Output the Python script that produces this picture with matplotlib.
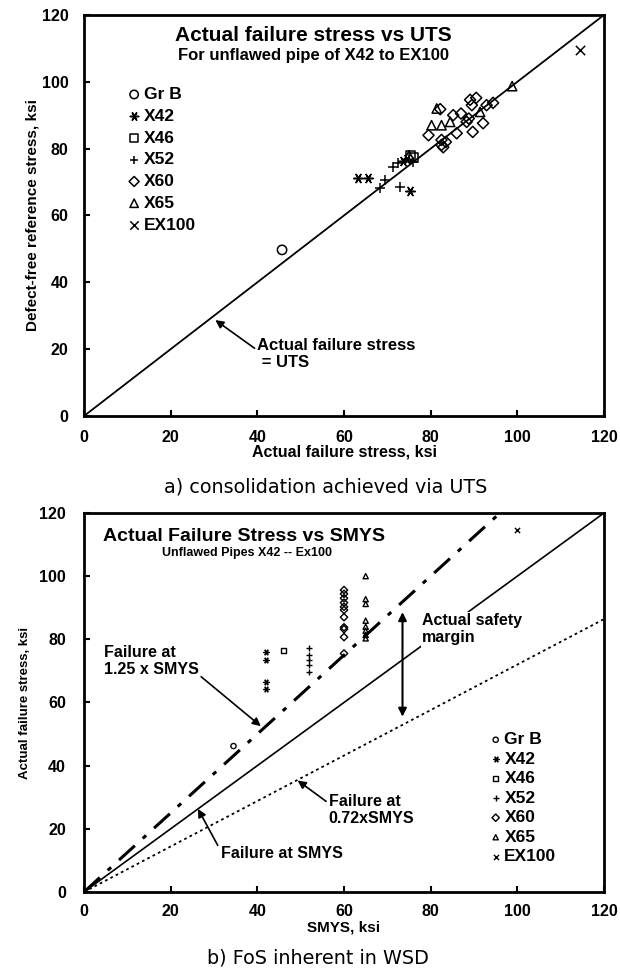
import numpy as np
import matplotlib.pyplot as plt

plt.rcParams['font.family'] = ['Liberation Sans', 'DejaVu Sans']
plt.rcParams['font.weight'] = 'bold'

labels = ['Gr B', 'X42', 'X46', 'X52', 'X60', 'X65', 'EX100']
ticks = [0, 20, 40, 60, 80, 100, 120]

# a) actual failure stress (x) vs defect-free reference stress (y)
a_grb_x = [45.7]
a_grb_y = [49.7]
a_x42_x = [63.3, 65.6, 75.2, 73.6, 74.6]
a_x42_y = [71.1, 71.1, 67.4, 76.3, 76.8]
a_x46_x = [75.4, 76.0]
a_x46_y = [77.8, 77.4]
a_x52_x = [69.5, 68.3, 72.9, 71.4, 72.5, 76.0]
a_x52_y = [70.6, 68.2, 68.6, 74.6, 75.7, 76.0]
a_x60_x = [89.1, 90.5, 89.5, 92.9, 94.4, 82.2, 85.2, 88.3, 88.8, 92.1,
           79.5, 86.0, 89.7, 82.5, 82.5, 82.9, 83.5, 87.0]
a_x60_y = [94.6, 95.2, 93.0, 93.0, 93.7, 91.8, 90.0, 88.0, 89.0, 87.6,
           84.0, 84.6, 85.0, 82.6, 81.1, 80.4, 82.0, 90.5]
a_x65_x = [80.2, 82.5, 84.5, 81.4, 91.4, 98.8, 75.0]
a_x65_y = [87.0, 87.0, 88.0, 92.0, 91.0, 98.7, 78.0]
a_ex100_x = [114.5]
a_ex100_y = [109.5]

# b) SMYS (x) vs actual failure stress (y)
b_grb_x = [34.5]
b_grb_y = [46.2]
b_x42_x = [42, 42, 42, 42]
b_x42_y = [76.1, 73.4, 66.6, 64.2]
b_x46_x = [46]
b_x46_y = [76.4]
b_x52_x = [52, 52, 52, 52, 52]
b_x52_y = [77.1, 75.0, 73.4, 71.8, 69.8]
b_x60_x = [60] * 11
b_x60_y = [95.6, 94.4, 93.0, 91.6, 90.3, 89.3, 87.0, 83.8, 83.2, 80.7, 75.5]
b_x65_x = [65] * 8
b_x65_y = [100.0, 92.7, 91.2, 85.9, 84.0, 82.7, 81.4, 80.3]
b_ex100_x = [100]
b_ex100_y = [114.6]

markers = ['o', (6, 2, 90), 's', '+', 'D', '^', 'x']
a_sizes = [45, 45, 45, 50, 32, 45, 45]

fig = plt.figure(figsize=(6.2, 9.71), dpi=100)
ax1 = fig.add_axes([0.1355, 0.5716, 0.8387, 0.413])
ax2 = fig.add_axes([0.1355, 0.0814, 0.8387, 0.3903])


def style_axes(ax, xpad, ypad):
    ax.set_xlim(0, 120)
    ax.set_ylim(0, 120)
    ax.set_xticks(ticks)
    ax.set_yticks(ticks)
    for s in ax.spines.values():
        s.set_linewidth(2)
    ax.tick_params(axis='x', direction='in', length=4, width=1.5, pad=xpad, labelsize=11.5)
    ax.tick_params(axis='y', direction='in', length=4, width=1.5, pad=ypad, labelsize=11.5)
    for t in ax.get_xticklabels() + ax.get_yticklabels():
        t.set_fontweight('bold')


# ---- chart a ----
a_xs = [a_grb_x, a_x42_x, a_x46_x, a_x52_x, a_x60_x, a_x65_x, a_ex100_x]
a_ys = [a_grb_y, a_x42_y, a_x46_y, a_x52_y, a_x60_y, a_x65_y, a_ex100_y]
line = np.array([0, 120])
ax1.plot(line, line, color='k', lw=1.3)
for xs, ys, m, sz, lab in zip(a_xs, a_ys, markers, a_sizes, labels):
    filled = m in ['+', 'x'] or isinstance(m, tuple)
    ax1.scatter(xs, ys, marker=m, s=sz,
                facecolors='k' if filled else 'none', edgecolors='k',
                linewidths=1.1, label=lab, zorder=3)
style_axes(ax1, 10, 11)
ax1.set_xlabel('Actual failure stress, ksi', fontsize=11.5, fontweight='bold', labelpad=0)
ax1.set_ylabel('Defect-free reference stress, ksi', fontsize=11, fontweight='bold', labelpad=2)
ax1.text(53, 114, 'Actual failure stress vs UTS', ha='center', va='center',
         fontsize=15, fontweight='bold')
ax1.text(53, 108, 'For unflawed pipe of X42 to EX100', ha='center', va='center',
         fontsize=12, fontweight='bold')
ax1.annotate('Actual failure stress\n = UTS', xy=(30.3, 28.7), xytext=(40, 18.5),
             ha='left', va='center', fontsize=12, fontweight='bold', linespacing=1.2,
             arrowprops=dict(arrowstyle='-|>', color='k', lw=1.2, mutation_scale=12,
                             shrinkA=0, shrinkB=0, relpos=(0, 0.62)))
ax1.legend(loc='upper left', bbox_to_anchor=(0.068, 0.838), frameon=False,
           fontsize=12.5, handletextpad=0.1, labelspacing=0.38, borderaxespad=0,
           handlelength=0.9, markerscale=0.9)

# ---- chart b ----
b_xs = [b_grb_x, b_x42_x, b_x46_x, b_x52_x, b_x60_x, b_x65_x, b_ex100_x]
b_ys = [b_grb_y, b_x42_y, b_x46_y, b_x52_y, b_x60_y, b_x65_y, b_ex100_y]
ax2.plot(line, line, color='k', lw=1.2)
ax2.plot(line, 1.25 * line, color='k', lw=2.2, linestyle=(0, (7, 3.5, 1.5, 3.5)))
ax2.plot(line, 0.72 * line, color='k', lw=1.3, linestyle=(0, (1.5, 1.8)))
for xs, ys, m, lab in zip(b_xs, b_ys, markers, labels):
    filled = m in ['+', 'x'] or isinstance(m, tuple)
    ax2.scatter(xs, ys, marker=m, s=14,
                facecolors='k' if filled else 'none', edgecolors='k',
                linewidths=1.0, label=lab, zorder=3)
style_axes(ax2, 9, 13)
ax2.set_xlabel('SMYS, ksi', fontsize=11, fontweight='bold', labelpad=1)
ax2.set_ylabel('Actual failure stress, ksi', fontsize=9.5, fontweight='bold', labelpad=6)
ax2.text(37, 112.5, 'Actual Failure Stress vs SMYS', ha='center', va='center',
         fontsize=14, fontweight='bold')
ax2.text(37.5, 107.3, 'Unflawed Pipes X42 -- Ex100', ha='center', va='center',
         fontsize=9, fontweight='bold')
ax2.annotate('Failure at\n1.25 x SMYS', xy=(40.8, 52.5), xytext=(4.5, 73.2),
             ha='left', va='center', fontsize=11.5, fontweight='bold', linespacing=1.2,
             arrowprops=dict(arrowstyle='-|>', color='k', lw=1.2, mutation_scale=12,
                             shrinkA=0, shrinkB=0, relpos=(0.95, 0.2)))
ax2.text(78, 83.2, 'Actual safety\nmargin', ha='left', va='center',
         fontsize=11.5, fontweight='bold', linespacing=1.2,
         bbox=dict(facecolor='white', edgecolor='none', pad=1))
ax2.annotate('', xy=(73.5, 55.5), xytext=(73.5, 88.6),
             arrowprops=dict(arrowstyle='<|-|>', color='k', lw=1.5, mutation_scale=12,
                             shrinkA=0, shrinkB=0))
ax2.annotate('Failure at\n0.72xSMYS', xy=(49.3, 35.3), xytext=(56.5, 26),
             ha='left', va='center', fontsize=11.5, fontweight='bold', linespacing=1.2,
             arrowprops=dict(arrowstyle='-|>', color='k', lw=1.2, mutation_scale=12,
                             shrinkA=0, shrinkB=0, relpos=(0, 0.7)))
ax2.annotate('Failure at SMYS', xy=(26.3, 26.3), xytext=(31.5, 12.2),
             ha='left', va='center', fontsize=11.5, fontweight='bold',
             arrowprops=dict(arrowstyle='-|>', color='k', lw=1.2, mutation_scale=12,
                             shrinkA=0, shrinkB=0, relpos=(0, 0.7)))
ax2.legend(loc='upper left', bbox_to_anchor=(0.765, 0.44), frameon=False,
           fontsize=12.5, handletextpad=0.1, labelspacing=0.25, borderaxespad=0,
           handlelength=0.8)

fig.text(0.526, 0.4985, 'a) consolidation achieved via UTS', ha='center', va='center',
         fontsize=13.8, fontweight='normal', family=['DejaVu Sans'])
fig.text(0.513, 0.0134, 'b) FoS inherent in WSD', ha='center', va='center',
         fontsize=13.8, fontweight='normal', family=['DejaVu Sans'])

fig.savefig('out.png', dpi=100)
